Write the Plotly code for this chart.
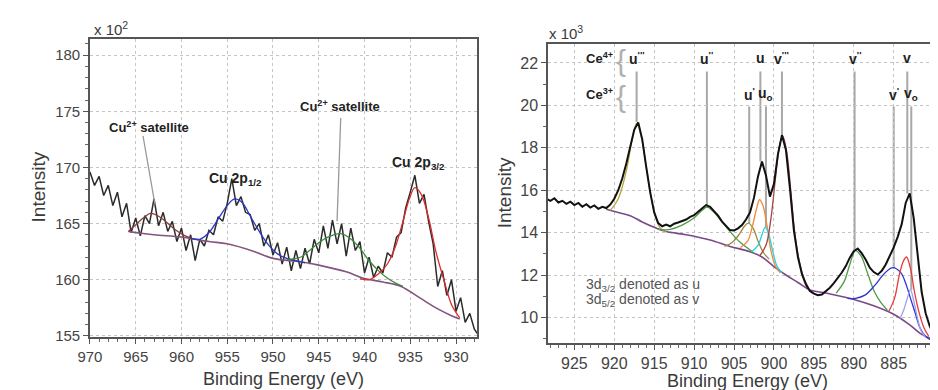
import plotly.graph_objects as go

# ---------------- Left panel: Cu 2p (intensity x 10^2) ----------------
cu_energy = [970.0, 969.5, 969.0, 968.5, 968.0, 967.5, 967.0, 966.5, 966.0, 965.5,
             965.0, 964.5, 964.0, 963.5, 963.0, 962.5, 962.0, 961.5, 961.0, 960.5,
             960.0, 959.5, 959.0, 958.5, 958.0, 957.5, 957.0, 956.5, 956.0, 955.5,
             955.0, 954.5, 954.0, 953.5, 953.0, 952.5, 952.0, 951.5, 951.0, 950.5,
             950.0, 949.5, 949.0, 948.5, 948.0, 947.5, 947.0, 946.5, 946.0, 945.5,
             945.0, 944.5, 944.0, 943.5, 943.0, 942.5, 942.0, 941.5, 941.0, 940.5,
             940.0, 939.5, 939.0, 938.5, 938.0, 937.5, 937.0, 936.5, 936.0, 935.5,
             935.0, 934.5, 934.0, 933.5, 933.0, 932.5, 932.0, 931.5, 931.0, 930.5,
             930.0, 929.5, 929.0, 928.5, 928.0, 927.5]
cu_counts = [169.6, 168.4, 169.2, 167.5, 168.4, 166.6, 167.8, 165.6, 166.8, 164.2,
             165.5, 163.9, 165.7, 165.0, 167.2, 164.8, 166.0, 164.3, 165.2, 163.4,
             164.6, 162.6, 164.0, 161.7, 163.6, 163.0, 164.4, 164.0, 165.6, 165.2,
             166.8, 169.0, 166.6, 167.4, 166.0, 165.8, 164.4, 165.0, 163.0, 164.0,
             162.2, 163.3, 161.4, 162.9, 160.8, 162.6, 161.0, 162.8, 161.4, 163.6,
             162.4, 164.8, 162.8, 165.3, 163.2, 165.0, 162.1, 164.6, 162.6, 163.4,
             160.6, 162.0, 160.2, 161.2, 160.6, 162.4, 162.0, 163.8, 164.2, 166.4,
             167.8, 169.3, 166.8, 167.6, 165.2, 163.2, 159.4, 160.8, 158.6, 160.0,
             157.2, 158.4, 156.2, 157.0, 155.6, 155.0]

cu_bg_e = [965.8, 963.0, 960.0, 957.0, 955.0, 952.0, 950.0, 947.0, 945.0, 942.0,
           940.0, 938.0, 936.0, 934.0, 932.0, 930.5, 929.6]
cu_bg_i = [164.3, 164.0, 163.8, 163.4, 163.2, 162.5, 161.9, 161.6, 161.3, 160.7,
           160.1, 159.8, 159.4, 158.4, 157.4, 156.8, 156.5]

cu_sat_hi_e = [965.8, 965.0, 964.0, 963.4, 962.6, 961.6, 960.6, 959.6, 958.6]
cu_sat_hi_i = [164.3, 164.9, 165.6, 165.9, 165.7, 165.1, 164.4, 163.9, 163.6]

cu_p12_e = [959.0, 958.0, 957.0, 956.0, 955.0, 954.2, 953.4, 952.5, 951.5, 950.5,
            949.5, 948.5, 947.5, 946.5]
cu_p12_i = [163.7, 163.6, 164.2, 165.4, 166.6, 167.2, 166.9, 165.7, 164.3, 163.1,
            162.3, 161.9, 161.7, 161.5]

cu_sat_lo_e = [948.5, 947.0, 946.0, 945.0, 944.0, 942.6, 941.6, 940.6, 939.6, 938.6,
               937.6, 936.6, 935.8]
cu_sat_lo_i = [161.8, 162.0, 162.6, 163.3, 163.8, 164.1, 163.7, 162.9, 161.8, 160.9,
               160.2, 159.7, 159.4]

cu_p32_e = [940.5, 939.5, 938.5, 937.5, 936.6, 935.8, 935.1, 934.5, 933.8, 933.0,
            932.2, 931.3, 930.5, 929.6]
cu_p32_i = [160.1, 160.0, 160.5, 161.4, 163.0, 165.2, 167.2, 168.2, 167.6, 165.5,
            162.5, 159.9, 157.8, 156.6]

# ---------------- Right panel: Ce 3d (intensity x 10^3) ----------------
ce_energy = [928.5, 928.0, 927.5, 927.0, 926.5, 926.0, 925.5, 925.0, 924.5, 924.0,
             923.5, 923.0, 922.5, 922.0, 921.5, 921.0, 920.5, 920.0, 919.5, 919.0,
             918.5, 918.0, 917.5, 917.0, 916.5, 916.0, 915.5, 915.0, 914.5, 914.0,
             913.5, 913.0, 912.5, 912.0, 911.5, 911.0, 910.5, 910.0, 909.5, 909.0,
             908.5, 908.0, 907.5, 907.0, 906.5, 906.0, 905.5, 905.0, 904.5, 904.0,
             903.5, 903.0, 902.5, 902.0, 901.5, 901.0, 900.5, 900.0, 899.5, 899.0,
             898.5, 898.0, 897.5, 897.0, 896.5, 896.0, 895.5, 895.0, 894.5, 894.0,
             893.5, 893.0, 892.5, 892.0, 891.5, 891.0, 890.5, 890.0, 889.5, 889.0,
             888.5, 888.0, 887.5, 887.0, 886.5, 886.0, 885.5, 885.0, 884.5, 884.0,
             883.5, 883.0, 882.5, 882.0, 881.5, 881.0, 880.5, 880.0, 879.5, 879.0]
ce_counts = [15.60, 15.50, 15.62, 15.42, 15.50, 15.36, 15.46, 15.30, 15.40, 15.22,
             15.34, 15.18, 15.28, 15.12, 15.22, 15.16, 15.32, 15.60, 16.00, 16.55,
             17.25, 18.05, 18.85, 19.20, 18.40, 17.10, 15.90, 14.95, 14.45, 14.30,
             14.38, 14.30, 14.42, 14.48, 14.55, 14.62, 14.74, 14.82, 14.98, 15.12,
             15.30, 15.22, 15.02, 14.80, 14.52, 14.30, 14.12, 14.10, 14.20, 14.36,
             14.62, 14.95, 15.65, 16.65, 17.35, 16.70, 15.70, 16.30, 17.70, 18.60,
             17.90, 16.10, 14.10, 12.85, 12.05, 11.55, 11.25, 11.12, 11.05, 11.08,
             11.22, 11.40, 11.62, 11.86, 12.12, 12.42, 12.82, 13.12, 13.25, 13.02,
             12.72, 12.35, 12.14, 12.02, 12.20, 12.50, 12.90, 13.30, 13.80, 14.40,
             15.40, 15.85, 14.70, 12.90, 11.20, 10.20, 9.60, 9.20, 9.00, 8.92]

ce_bg_e = [921.0, 919.5, 918.0, 916.5, 915.0, 913.5, 911.0, 908.0, 905.5, 903.0,
           901.5, 900.0, 898.5, 897.0, 895.5, 893.5, 890.0, 887.5, 885.0, 883.0,
           881.5, 880.0, 879.0]
ce_bg_i = [15.10, 14.95, 14.80, 14.50, 14.25, 14.05, 13.90, 13.65, 13.35, 13.10,
           12.85, 12.40, 12.00, 11.65, 11.30, 11.15, 10.85, 10.55, 10.15, 9.65,
           9.20, 8.95, 8.85]

ce_u3_e = [920.5, 919.5, 918.5, 917.8, 917.2, 916.6, 916.0, 915.4, 914.8, 914.2, 913.5]
ce_u3_i = [15.05, 15.60, 16.90, 18.30, 19.15, 18.50, 17.10, 15.70, 14.70, 14.20, 14.05]
ce_u2_e = [914.5, 913.0, 911.5, 910.0, 909.0, 908.4, 907.6, 906.6, 905.5, 904.4, 903.4, 902.4]
ce_u2_i = [14.15, 14.15, 14.35, 14.70, 15.05, 15.20, 15.00, 14.55, 14.05, 13.60, 13.30, 13.00]
ce_u1_e = [906.2, 905.2, 904.3, 903.7, 903.2, 902.6, 902.0, 901.3, 900.6]
ce_u1_i = [13.35, 13.55, 13.95, 14.30, 14.45, 14.20, 13.60, 13.05, 12.75]
ce_u_e = [904.2, 903.3, 902.7, 902.2, 901.8, 901.4, 900.9, 900.4, 899.8, 899.2]
ce_u_i = [13.30, 13.60, 14.30, 15.10, 15.55, 15.30, 14.40, 13.20, 12.40, 12.10]
ce_u0_e = [902.8, 902.0, 901.5, 901.1, 900.7, 900.2, 899.6, 899.0]
ce_u0_i = [13.10, 13.40, 13.90, 14.25, 14.00, 13.20, 12.40, 12.10]
ce_v3_e = [901.8, 901.0, 900.4, 899.8, 899.3, 898.9, 898.4, 897.9, 897.4, 896.8, 896.2, 895.6]
ce_v3_i = [12.90, 13.40, 14.60, 16.60, 18.10, 18.55, 17.80, 16.00, 14.00, 12.60, 11.80, 11.35]
ce_v2_e = [892.2, 891.2, 890.5, 889.8, 889.1, 888.2, 887.4, 886.6, 885.8]
ce_v2_i = [11.15, 11.70, 12.50, 13.15, 12.90, 12.00, 11.20, 10.70, 10.35]
ce_v1_e = [890.8, 889.8, 888.6, 887.4, 886.1, 885.1, 884.1, 883.4, 882.9, 882.3, 881.7, 881.0, 880.4]
ce_v1_i = [10.90, 10.90, 11.05, 11.50, 12.10, 12.35, 12.10, 11.50, 10.90, 10.20, 9.50, 9.10, 8.95]
ce_v_e = [885.6, 884.9, 884.3, 883.8, 883.4, 882.9, 882.4, 881.8, 881.2, 880.6]
ce_v_i = [10.30, 10.90, 12.00, 12.65, 12.85, 12.30, 11.20, 10.20, 9.50, 9.10]
ce_v0_e = [884.2, 883.7, 883.3, 882.9, 882.5, 882.1, 881.6, 881.0]
ce_v0_i = [9.95, 10.40, 10.90, 11.30, 10.80, 10.10, 9.40, 9.05]

# peak labels (Ce4+ row and Ce3+ row)
ce4_labels = ["u<sup>'''</sup>", "u<sup>''</sup>", "u", "v<sup>'''</sup>", "v<sup>''</sup>", "v"]
ce4_pos = [917.2, 908.4, 901.7, 899.0, 889.9, 883.3]
ce4_end = [19.2, 15.3, 17.35, 18.6, 13.2, 15.85]
ce3_labels = ["u<sup>'</sup>", "u<sub>o</sub>", "v<sup>'</sup>", "v<sub>o</sub>"]
ce3_pos = [903.1, 901.0, 885.0, 882.8]
ce3_end = [14.45, 14.25, 12.35, 11.3]
row_label_y = [22.22, 20.52]
row_line_top = [21.6, 19.95]

FONT = "Arial, Liberation Sans, sans-serif"
fig = go.Figure()

def line(x, y, color, width, xa, ya, shape="spline"):
    fig.add_trace(go.Scatter(x=x, y=y, mode="lines", xaxis=xa, yaxis=ya,
                             line=dict(color=color, width=width, shape=shape),
                             hoverinfo="skip"))

# left panel
line(cu_energy, cu_counts, "#2b2b2b", 1.5, "x", "y", shape="linear")
line(cu_bg_e, cu_bg_i, "#84547e", 1.6, "x", "y")
line(cu_sat_hi_e, cu_sat_hi_i, "#8a3c3c", 1.3, "x", "y")
line(cu_p12_e, cu_p12_i, "#2a36c8", 1.3, "x", "y")
line(cu_sat_lo_e, cu_sat_lo_i, "#3a8a3a", 1.3, "x", "y")
line(cu_p32_e, cu_p32_i, "#e02a2a", 1.3, "x", "y")

# right panel
line(ce_bg_e, ce_bg_i, "#7a4a88", 1.6, "x2", "y2")
for xs, ys, c in [(ce_u3_e, ce_u3_i, "#b8a640"), (ce_u2_e, ce_u2_i, "#4e9a48"),
                  (ce_u1_e, ce_u1_i, "#9a8a3a"), (ce_u_e, ce_u_i, "#f08a3a"),
                  (ce_u0_e, ce_u0_i, "#28d0e0"), (ce_v3_e, ce_v3_i, "#a04444"),
                  (ce_v2_e, ce_v2_i, "#4e9a48"), (ce_v1_e, ce_v1_i, "#2a36d0"),
                  (ce_v_e, ce_v_i, "#e83a3a"), (ce_v0_e, ce_v0_i, "#a0a0e6")]:
    line(xs, ys, c, 1.3, "x2", "y2")
line(ce_energy, ce_counts, "#111111", 2.0, "x2", "y2", shape="linear")

shapes = []
for e, end in zip(ce4_pos, ce4_end):
    shapes.append(dict(type="line", xref="x2", yref="y2", x0=e, x1=e, y0=row_line_top[0], y1=end,
                       line=dict(color="#a8a8a8", width=2), layer="below"))
for e, end in zip(ce3_pos, ce3_end):
    shapes.append(dict(type="line", xref="x2", yref="y2", x0=e, x1=e, y0=row_line_top[1], y1=end,
                       line=dict(color="#a8a8a8", width=2), layer="below"))
# left panel pointer lines
shapes.append(dict(type="line", xref="x", yref="y", x0=964.2, x1=962.9, y0=172.8, y1=166.7,
                   line=dict(color="#999", width=1.3)))
shapes.append(dict(type="line", xref="x", yref="y", x0=942.6, x1=943.0, y0=174.4, y1=165.2,
                   line=dict(color="#999", width=1.3)))

ann = []
def txt(x, y, t, xref, yref, size=13, bold=True, color="#222", xanchor="center"):
    ann.append(dict(x=x, y=y, xref=xref, yref=yref, text=(f"<b>{t}</b>" if bold else t),
                    showarrow=False, xanchor=xanchor, yanchor="middle",
                    font=dict(family=FONT, size=size, color=color)))

txt(963.5, 173.6, "Cu<sup>2+</sup> satellite", "x", "y")
txt(942.7, 175.5, "Cu<sup>2+</sup> satellite", "x", "y")
txt(954.1, 169.0, "Cu 2p<sub>1/2</sub>", "x", "y", size=14)
txt(934.1, 170.4, "Cu 2p<sub>3/2</sub>", "x", "y", size=14)

for t, e in zip(ce4_labels, ce4_pos):
    txt(e, row_label_y[0], t, "x2", "y2", size=14)
for t, e in zip(ce3_labels, ce3_pos):
    txt(e, row_label_y[1], t, "x2", "y2", size=14)
txt(921.9, row_label_y[0], "Ce<sup>4+</sup>", "x2", "y2", size=13)
txt(921.9, row_label_y[1], "Ce<sup>3+</sup>", "x2", "y2", size=13)
txt(919.1, row_label_y[0] - 0.1, "{", "x2", "y2", size=30, bold=False, color="#b0b0b0")
txt(919.1, row_label_y[1] - 0.1, "{", "x2", "y2", size=30, bold=False, color="#b0b0b0")
txt(923.8, 11.55, "3d<sub>3/2</sub> denoted as u", "x2", "y2", size=14, bold=False, color="#555", xanchor="left")
txt(923.8, 10.8, "3d<sub>5/2</sub> denoted as v", "x2", "y2", size=14, bold=False, color="#555", xanchor="left")

def paper_text(px, py, t, size, angle=0, xanchor="center"):
    ann.append(dict(x=px / 938, y=(390 - py) / 390, xref="paper", yref="paper",
                    xanchor=xanchor, yanchor="middle", showarrow=False, textangle=angle,
                    text=t, font=dict(family=FONT, size=size, color="#3a3a3a")))

# multipliers and axis titles (pixel positions converted to paper coords)
paper_text(72, 21, "x 10<sup>2</sup>", 15, xanchor="left")
paper_text(534, 25, "x 10<sup>3</sup>", 15, xanchor="left")
paper_text(18, 182, "Intensity", 19, angle=-90)
paper_text(491, 188, "Intensity", 19, angle=-90)
paper_text(266, 378, "Binding Energy (eV)", 18)
paper_text(737, 380, "Binding Energy (eV)", 18)

def axis(**kw):
    base = dict(showline=True, linecolor="#555", linewidth=1.5, mirror=True,
                ticks="outside", ticklen=5, tickwidth=1.2, tickcolor="#555",
                showgrid=True, gridcolor="#c4c4c4", griddash="dot", gridwidth=1,
                zeroline=False, tickfont=dict(family=FONT, size=15, color="#444"),
                minor=dict(ticks="outside", ticklen=3, tickwidth=1, tickcolor="#666", dtick=1, showgrid=False))
    base.update(kw)
    return base

fig.update_layout(
    width=938, height=390, margin=dict(l=0, r=0, t=0, b=0),
    paper_bgcolor="white", plot_bgcolor="white", showlegend=False,
    xaxis=axis(domain=[70/938, 463/938], range=[970, 927.7], dtick=5, tick0=970, anchor="y"),
    yaxis=axis(domain=[55/390, 358/390], range=[154.9, 181.4], dtick=5, tick0=155, anchor="x"),
    xaxis2=axis(domain=[535/938, 937/938], range=[928.3, 878.7], dtick=5, tick0=880, anchor="y2",
                tickfont=dict(family=FONT, size=16, color="#444")),
    yaxis2=axis(domain=[49/390, 353/390], range=[8.8, 22.88], dtick=2, tick0=10, anchor="x2",
                tickfont=dict(family=FONT, size=16, color="#444")),
    shapes=shapes, annotations=ann,
)

fig.write_html("out.html")
